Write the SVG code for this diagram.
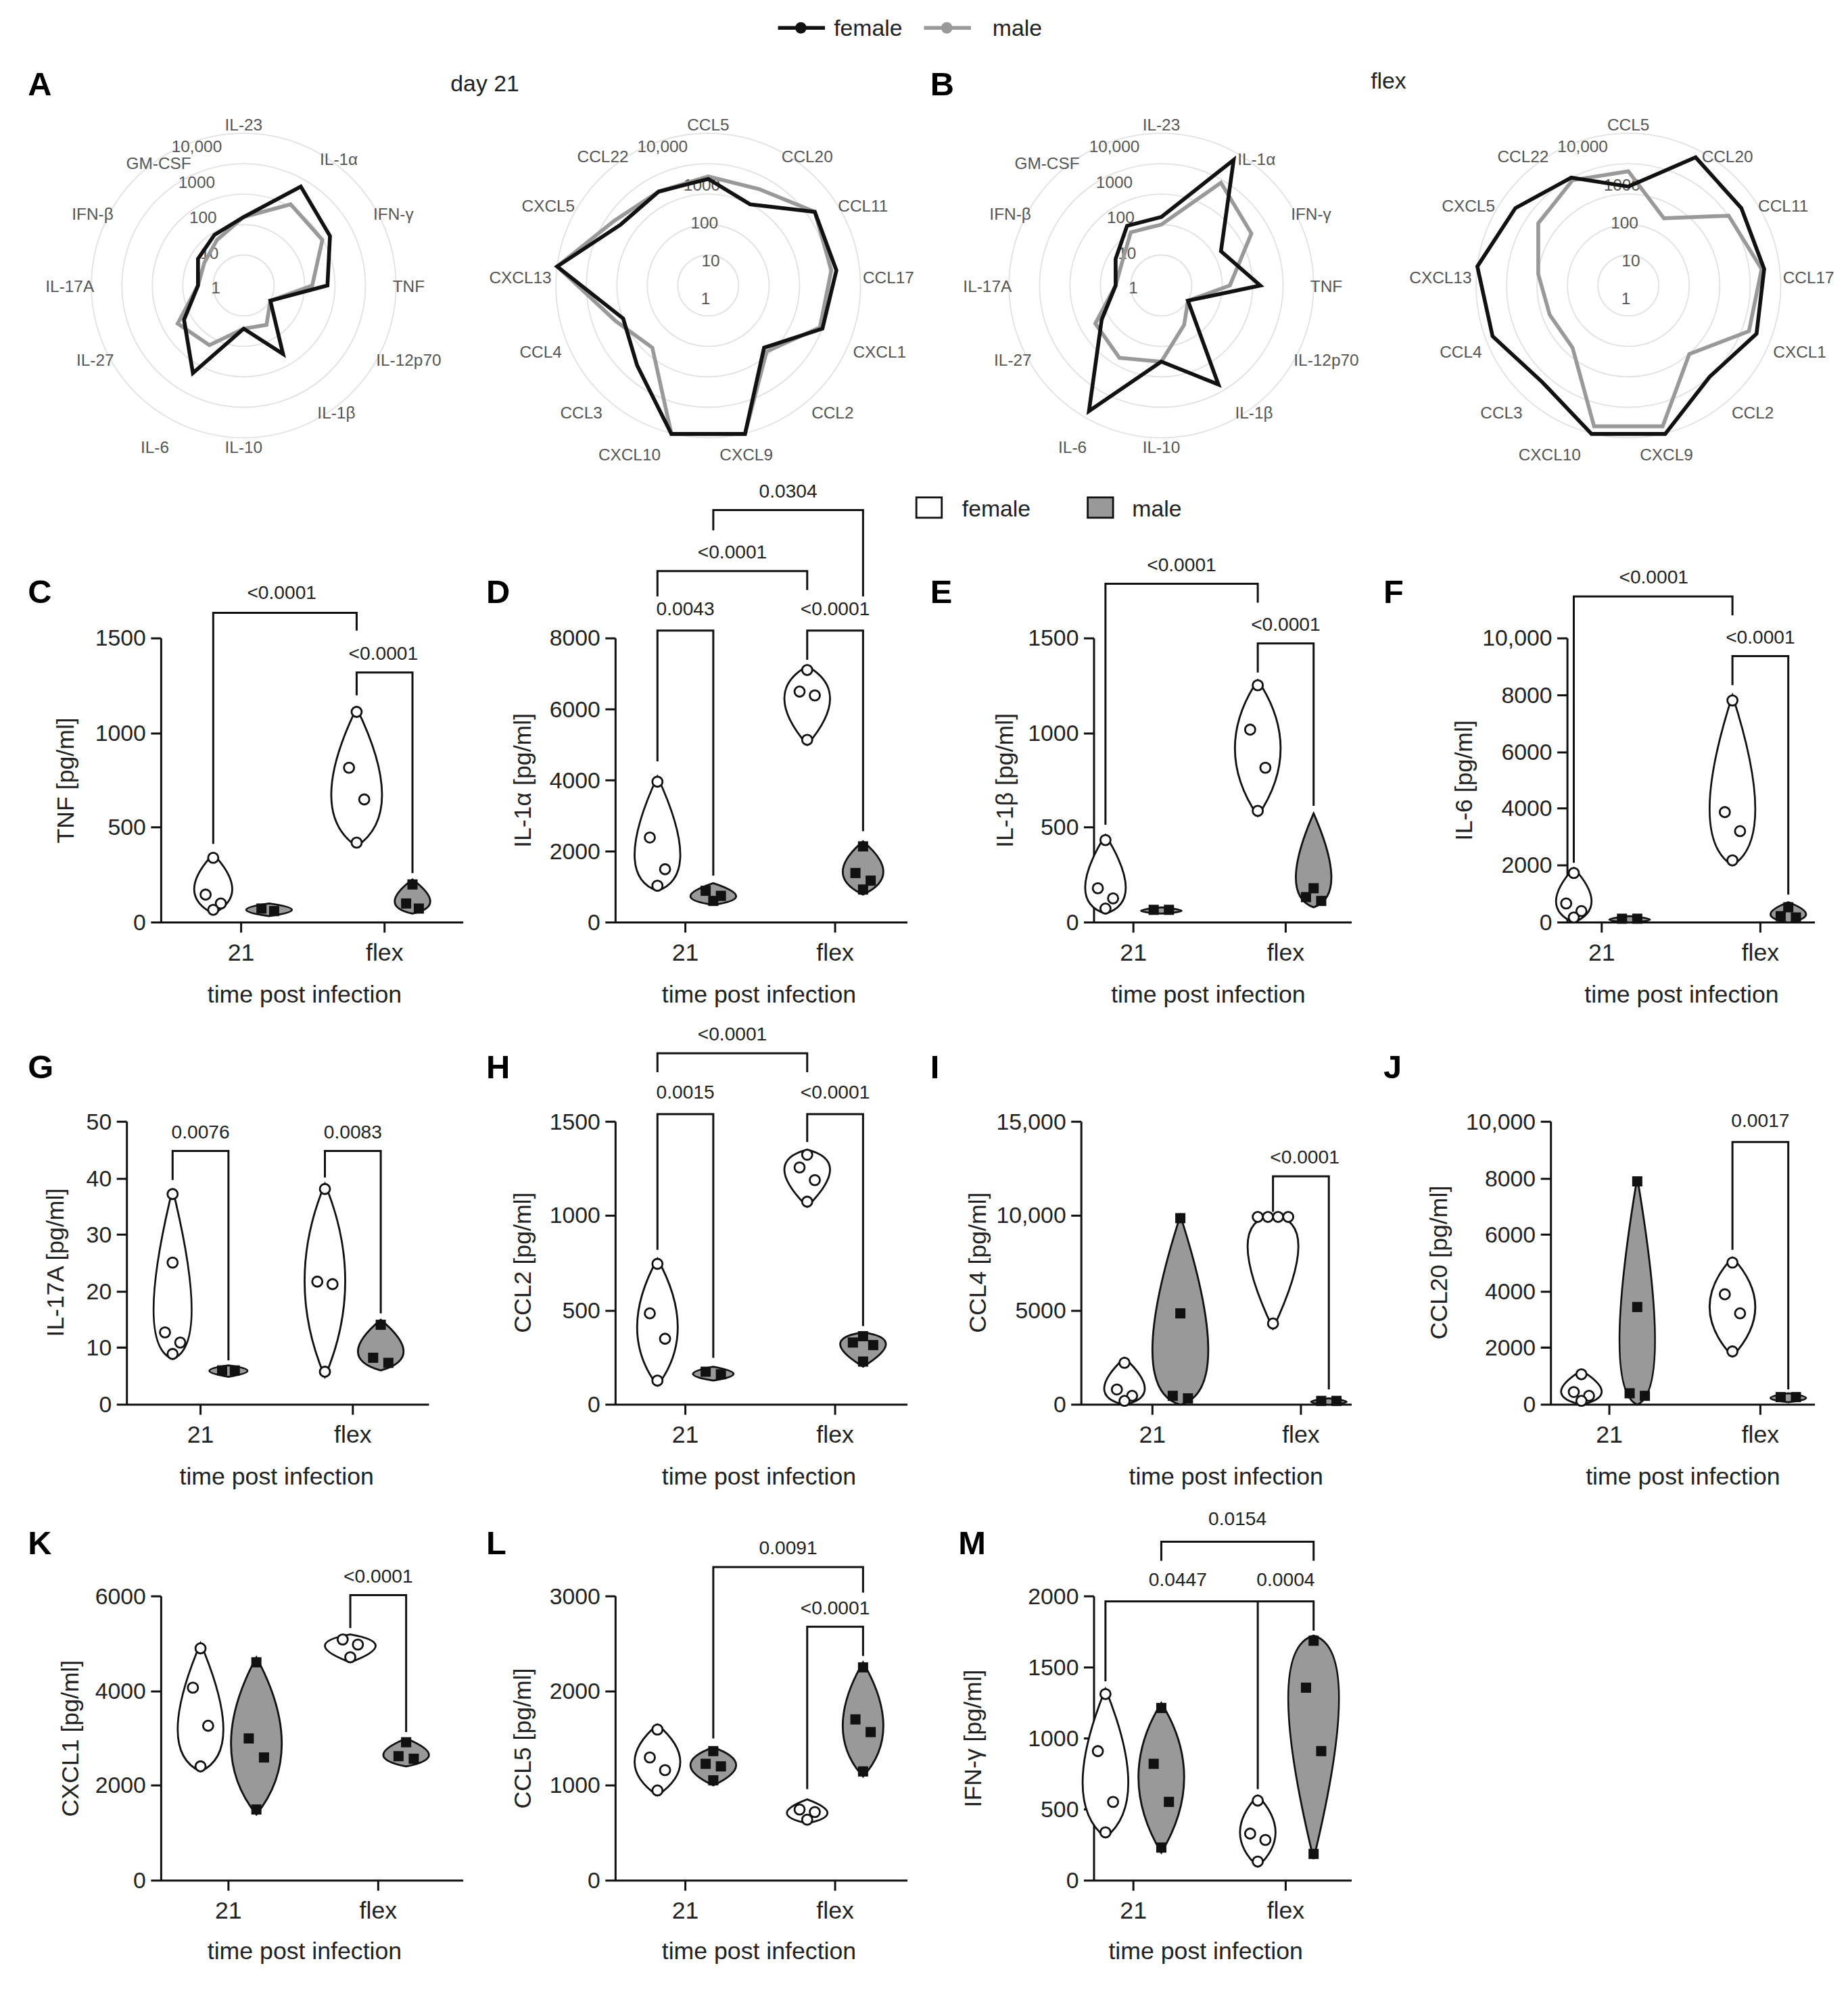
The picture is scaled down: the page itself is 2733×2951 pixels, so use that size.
<svg xmlns="http://www.w3.org/2000/svg" xmlns:xlink="http://www.w3.org/1999/xlink" width="2733" height="2951" viewBox="0 0 2733 2951">
<style>
text{font-family:"Liberation Sans",Arial,sans-serif;fill:#222}
.pl{font-size:26px;font-weight:bold;fill:#000}
.rl{font-size:13px;fill:#555;text-anchor:middle}
.rs{font-size:13px;fill:#555;text-anchor:middle}
.grid{fill:none;stroke:#e2e2e2;stroke-width:1}
.fp{fill:none;stroke:#111;stroke-width:3}
.mp{fill:none;stroke:#999;stroke-width:3}
.ax{fill:none;stroke:#111;stroke-width:1.6}
.tk{font-size:18px;text-anchor:end}
.xl{font-size:19px;text-anchor:middle}
.yl{font-size:19px;text-anchor:middle}
.pv{font-size:15px;text-anchor:middle}
.br{fill:none;stroke:#111;stroke-width:1.6}
.vf{fill:#fff;stroke:#111;stroke-width:1.5}
.vm{fill:#999;stroke:#111;stroke-width:1.5}
</style>
<defs>
<circle id="fd" r="4" fill="#fff" stroke="#111" stroke-width="1.5"/>
<rect id="md" x="-4" y="-4" width="8" height="8" fill="#111"/>
</defs>
<rect width="2733" height="2951" fill="#fff"/>
<g transform="scale(1.877)">
<g id="legend-top">
<line x1="613" y1="22" x2="650" y2="22" stroke="#111" stroke-width="3"/><circle cx="631" cy="22" r="4.5" fill="#111"/>
<text x="657" y="28" font-size="18">female</text>
<line x1="728" y1="22" x2="765" y2="22" stroke="#999" stroke-width="3"/><circle cx="746" cy="22" r="4.5" fill="#999"/>
<text x="782" y="28" font-size="18">male</text>
</g>
<g id="labels">
<text class="pl" x="22" y="75">A</text><text class="pl" x="733" y="75">B</text>
<text x="355" y="72" font-size="18">day 21</text><text x="1080" y="70" font-size="18">flex</text>
<text class="pl" x="22" y="475">C</text><text class="pl" x="383" y="475">D</text><text class="pl" x="733" y="475">E</text><text class="pl" x="1090" y="475">F</text>
<text class="pl" x="22" y="850">G</text><text class="pl" x="383" y="850">H</text><text class="pl" x="733" y="850">I</text><text class="pl" x="1090" y="850">J</text>
<text class="pl" x="22" y="1225">K</text><text class="pl" x="383" y="1225">L</text><text class="pl" x="755" y="1225">M</text>
</g>
<g id="radarA1">
<circle class="grid" cx="192" cy="225" r="24"/><circle class="grid" cx="192" cy="225" r="48"/><circle class="grid" cx="192" cy="225" r="72"/><circle class="grid" cx="192" cy="225" r="96"/><circle class="grid" cx="192" cy="225" r="120"/>
<text class="rs" x="155" y="120">10,000</text><text class="rs" x="155" y="148">1000</text><text class="rs" x="160" y="176">100</text><text class="rs" x="165" y="204">10</text><text class="rs" x="170" y="231">1</text>
<text class="rl" x="192" y="103">IL-23</text><text class="rl" x="267" y="130">IL-1α</text><text class="rl" x="310" y="173">IFN-γ</text><text class="rl" x="322" y="230">TNF</text><text class="rl" x="322" y="288">IL-12p70</text><text class="rl" x="265" y="330">IL-1β</text><text class="rl" x="192" y="357">IL-10</text><text class="rl" x="122" y="357">IL-6</text><text class="rl" x="75" y="288">IL-27</text><text class="rl" x="55" y="230">IL-17A</text><text class="rl" x="73" y="173">IFN-β</text><text class="rl" x="125" y="133">GM-CSF</text>
<polygon class="mp" points="192,171 229,161 254,189 246,225 213,237 210,256 192,259 165,272 140,255 156,225 161,207 171,189"/>
<polygon class="fp" points="192,171 237,147 260,186 258,225 213,237 223,279 192,259 152,294 145,252 156,225 156,204 169,185"/>
</g>
<g id="radarA2">
<circle class="grid" cx="558" cy="225" r="24"/><circle class="grid" cx="558" cy="225" r="48"/><circle class="grid" cx="558" cy="225" r="72"/><circle class="grid" cx="558" cy="225" r="96"/><circle class="grid" cx="558" cy="225" r="120"/>
<text class="rs" x="522" y="120">10,000</text><text class="rs" x="553" y="150">1000</text><text class="rs" x="555" y="180">100</text><text class="rs" x="560" y="210">10</text><text class="rs" x="556" y="240">1</text>
<text class="rl" x="558" y="103">CCL5</text><text class="rl" x="636" y="128">CCL20</text><text class="rl" x="680" y="167">CCL11</text><text class="rl" x="700" y="223">CCL17</text><text class="rl" x="693" y="282">CXCL1</text><text class="rl" x="656" y="330">CCL2</text><text class="rl" x="588" y="363">CXCL9</text><text class="rl" x="496" y="363">CXCL10</text><text class="rl" x="458" y="330">CCL3</text><text class="rl" x="426" y="282">CCL4</text><text class="rl" x="410" y="223">CXCL13</text><text class="rl" x="432" y="167">CXCL5</text><text class="rl" x="475" y="128">CCL22</text>
<polygon class="mp" points="558,139 598,149 642,167 655,213 646,258 604,277 587,342 529,342 514,274 485,253 439,210 484,174 519,151"/>
<polygon class="fp" points="558,141 591,161 642,167 659,213 648,259 602,274 587,342 529,342 502,288 491,251 439,210 489,177 519,151"/>
</g>
<g id="radarB1">
<circle class="grid" cx="915" cy="225" r="24"/><circle class="grid" cx="915" cy="225" r="48"/><circle class="grid" cx="915" cy="225" r="72"/><circle class="grid" cx="915" cy="225" r="96"/><circle class="grid" cx="915" cy="225" r="120"/>
<text class="rs" x="878" y="120">10,000</text><text class="rs" x="878" y="148">1000</text><text class="rs" x="883" y="176">100</text><text class="rs" x="888" y="204">10</text><text class="rs" x="893" y="231">1</text>
<text class="rl" x="915" y="103">IL-23</text><text class="rl" x="990" y="130">IL-1α</text><text class="rl" x="1033" y="173">IFN-γ</text><text class="rl" x="1045" y="230">TNF</text><text class="rl" x="1045" y="288">IL-12p70</text><text class="rl" x="988" y="330">IL-1β</text><text class="rl" x="915" y="357">IL-10</text><text class="rl" x="845" y="357">IL-6</text><text class="rl" x="798" y="288">IL-27</text><text class="rl" x="778" y="230">IL-17A</text><text class="rl" x="796" y="173">IFN-β</text><text class="rl" x="825" y="133">GM-CSF</text>
<polygon class="mp" points="915,177 962,144 986,184 969,225 936,237 933,256 915,285 882,282 863,255 879,225 884,207 891,183"/>
<polygon class="fp" points="915,171 972,126 962,198 993,225 936,237 960,303 915,285 858,324 868,252 879,225 879,204 888,178"/>
</g>
<g id="radarB2">
<circle class="grid" cx="1283" cy="225" r="24"/><circle class="grid" cx="1283" cy="225" r="48"/><circle class="grid" cx="1283" cy="225" r="72"/><circle class="grid" cx="1283" cy="225" r="96"/><circle class="grid" cx="1283" cy="225" r="120"/>
<text class="rs" x="1247" y="120">10,000</text><text class="rs" x="1278" y="150">1000</text><text class="rs" x="1280" y="180">100</text><text class="rs" x="1285" y="210">10</text><text class="rs" x="1281" y="240">1</text>
<text class="rl" x="1283" y="103">CCL5</text><text class="rl" x="1361" y="128">CCL20</text><text class="rl" x="1405" y="167">CCL11</text><text class="rl" x="1425" y="223">CCL17</text><text class="rl" x="1418" y="282">CXCL1</text><text class="rl" x="1381" y="330">CCL2</text><text class="rl" x="1313" y="363">CXCL9</text><text class="rl" x="1221" y="363">CXCL10</text><text class="rl" x="1183" y="330">CCL3</text><text class="rl" x="1151" y="282">CCL4</text><text class="rl" x="1135" y="223">CXCL13</text><text class="rl" x="1157" y="167">CXCL5</text><text class="rl" x="1200" y="128">CCL22</text>
<polygon class="mp" points="1283,135 1311,172 1362,170 1388,212 1378,261 1331,279 1310,336 1256,336 1239,274 1221,248 1212,216 1212,176 1239,142"/>
<polygon class="fp" points="1283,147 1336,124 1372,164 1390,212 1384,263 1347,297 1312,342 1254,342 1215,301 1176,265 1164,210 1194,164 1238,140"/>
</g>
<g id="legend-violin">
<rect x="722" y="392" width="20" height="16" fill="#fff" stroke="#111" stroke-width="1.5"/><text x="758" y="407" font-size="18">female</text>
<rect x="857" y="392" width="20" height="16" fill="#999" stroke="#111" stroke-width="1.5"/><text x="892" y="407" font-size="18">male</text>
</g>
<g id="panelC">
<path class="ax" d="M127 503V727H365M119 503H127M119 578H127M119 652H127M119 727H127M190 727V735M303 727V735"/>
<text class="tk" x="115" y="509">1500</text><text class="tk" x="115" y="584">1000</text><text class="tk" x="115" y="658">500</text><text class="tk" x="115" y="733">0</text>
<text class="xl" x="190" y="757">21</text><text class="xl" x="303" y="757">flex</text><text class="xl" x="240" y="790">time post infection</text>
<text class="yl" transform="translate(58 615) rotate(-90)">TNF [pg/ml]</text>
<path class="vf" d="M168 673Q198 705 168 720Q138 705 168 673Z"/><path class="vm" d="M212 712Q248 717 212 722Q176 717 212 712Z"/>
<path class="vf" d="M281 558Q321 640 281 667Q241 640 281 558Z"/><path class="vm" d="M325 693Q353 714 325 720Q297 714 325 693Z"/>
<use href="#fd" x="168" y="676"/><use href="#fd" x="162" y="705"/><use href="#fd" x="174" y="712"/><use href="#fd" x="168" y="717"/>
<use href="#md" x="206" y="716"/><use href="#md" x="216" y="718"/>
<use href="#fd" x="281" y="561"/><use href="#fd" x="275" y="605"/><use href="#fd" x="287" y="630"/><use href="#fd" x="281" y="664"/>
<use href="#md" x="325" y="697"/><use href="#md" x="320" y="712"/><use href="#md" x="330" y="716"/>
<path class="br" d="M168 665V483H281V497M281 548V530H325V688"/>
<text class="pv" x="222" y="472">&lt;0.0001</text><text class="pv" x="302" y="520">&lt;0.0001</text>
</g>
<g id="panelD">
<path class="ax" d="M485 503V727H715M477 503H485M477 559H485M477 615H485M477 671H485M477 727H485M540 727V735M658 727V735"/>
<text class="tk" x="473" y="509">8000</text><text class="tk" x="473" y="565">6000</text><text class="tk" x="473" y="621">4000</text><text class="tk" x="473" y="677">2000</text><text class="tk" x="473" y="733">0</text>
<text class="xl" x="540" y="757">21</text><text class="xl" x="658" y="757">flex</text><text class="xl" x="598" y="790">time post infection</text>
<text class="yl" transform="translate(418 615) rotate(-90)">IL-1α [pg/ml]</text>
<path class="vf" d="M518 612Q554 690 518 702Q482 690 518 612Z"/><path class="vm" d="M562 696Q598 708 562 713Q526 708 562 696Z"/>
<path class="vf" d="M636 525Q672 545 636 587Q600 545 636 525Z"/><path class="vm" d="M680 663Q712 690 680 705Q648 690 680 663Z"/>
<use href="#fd" x="518" y="616"/><use href="#fd" x="512" y="660"/><use href="#fd" x="524" y="685"/><use href="#fd" x="518" y="698"/>
<use href="#md" x="556" y="702"/><use href="#md" x="568" y="706"/><use href="#md" x="562" y="710"/>
<use href="#fd" x="636" y="528"/><use href="#fd" x="630" y="545"/><use href="#fd" x="642" y="548"/><use href="#fd" x="636" y="583"/>
<use href="#md" x="680" y="667"/><use href="#md" x="674" y="688"/><use href="#md" x="686" y="694"/><use href="#md" x="680" y="701"/>
<path class="br" d="M518 470V450H636V465M518 600V497H562V690M636 520V497H680V655M562 418V402H680V470"/>
<text class="pv" x="540" y="485">0.0043</text><text class="pv" x="577" y="440">&lt;0.0001</text><text class="pv" x="658" y="485">&lt;0.0001</text><text class="pv" x="621" y="392">0.0304</text>
</g>
<g id="panelE">
<path class="ax" d="M862 503V727H1065M854 503H862M854 578H862M854 652H862M854 727H862M893 727V735M1013 727V735"/>
<text class="tk" x="850" y="509">1500</text><text class="tk" x="850" y="584">1000</text><text class="tk" x="850" y="658">500</text><text class="tk" x="850" y="733">0</text>
<text class="xl" x="893" y="757">21</text><text class="xl" x="1013" y="757">flex</text><text class="xl" x="952" y="790">time post infection</text>
<text class="yl" transform="translate(798 615) rotate(-90)">IL-1β [pg/ml]</text>
<path class="vf" d="M871 658Q903 710 871 720Q839 710 871 658Z"/><path class="vm" d="M915 715Q947 718 915 720Q883 718 915 715Z"/>
<path class="vf" d="M991 536Q1027 590 991 643Q955 590 991 536Z"/><path class="vm" d="M1035 641Q1063 705 1035 715Q1007 705 1035 641Z"/>
<use href="#fd" x="871" y="662"/><use href="#fd" x="865" y="700"/><use href="#fd" x="877" y="708"/><use href="#fd" x="871" y="716"/>
<use href="#md" x="909" y="717"/><use href="#md" x="921" y="717"/>
<use href="#fd" x="991" y="540"/><use href="#fd" x="985" y="575"/><use href="#fd" x="997" y="605"/><use href="#fd" x="991" y="639"/>
<use href="#md" x="1035" y="700"/><use href="#md" x="1029" y="707"/><use href="#md" x="1041" y="710"/>
<path class="br" d="M871 650V460H991V475M991 530V507H1035V635"/>
<text class="pv" x="931" y="450">&lt;0.0001</text><text class="pv" x="1013" y="497">&lt;0.0001</text>
</g>
<g id="panelF">
<path class="ax" d="M1235 503V727H1430M1227 503H1235M1227 548H1235M1227 593H1235M1227 637H1235M1227 682H1235M1227 727H1235M1262 727V735M1387 727V735"/>
<text class="tk" x="1223" y="509">10,000</text><text class="tk" x="1223" y="554">8000</text><text class="tk" x="1223" y="599">6000</text><text class="tk" x="1223" y="643">4000</text><text class="tk" x="1223" y="688">2000</text><text class="tk" x="1223" y="733">0</text>
<text class="xl" x="1262" y="757">21</text><text class="xl" x="1387" y="757">flex</text><text class="xl" x="1325" y="790">time post infection</text>
<text class="yl" transform="translate(1160 615) rotate(-90)">IL-6 [pg/ml]</text>
<path class="vf" d="M1240 684Q1268 715 1240 727Q1212 715 1240 684Z"/><path class="vm" d="M1284 722Q1316 725 1284 727Q1252 725 1284 722Z"/>
<path class="vf" d="M1365 548Q1401 660 1365 682Q1329 660 1365 548Z"/><path class="vm" d="M1409 711Q1437 722 1409 727Q1381 722 1409 711Z"/>
<use href="#fd" x="1240" y="688"/><use href="#fd" x="1234" y="712"/><use href="#fd" x="1246" y="718"/><use href="#fd" x="1240" y="723"/>
<use href="#md" x="1278" y="724"/><use href="#md" x="1290" y="724"/>
<use href="#fd" x="1365" y="552"/><use href="#fd" x="1359" y="640"/><use href="#fd" x="1371" y="655"/><use href="#fd" x="1365" y="678"/>
<use href="#md" x="1409" y="715"/><use href="#md" x="1403" y="722"/><use href="#md" x="1415" y="723"/>
<path class="br" d="M1240 680V470H1365V485M1365 540V517H1409V705"/>
<text class="pv" x="1303" y="460">&lt;0.0001</text><text class="pv" x="1387" y="507">&lt;0.0001</text>
</g>
<g id="panelG">
<path class="ax" d="M100 884V1107H338M92 884H100M92 929H100M92 973H100M92 1018H100M92 1062H100M92 1107H100M158 1107V1115M278 1107V1115"/>
<text class="tk" x="88" y="890">50</text><text class="tk" x="88" y="935">40</text><text class="tk" x="88" y="979">30</text><text class="tk" x="88" y="1024">20</text><text class="tk" x="88" y="1068">10</text><text class="tk" x="88" y="1113">0</text>
<text class="xl" x="158" y="1137">21</text><text class="xl" x="278" y="1137">flex</text><text class="xl" x="218" y="1170">time post infection</text>
<text class="yl" transform="translate(50 995) rotate(-90)">IL-17A [pg/ml]</text>
<path class="vf" d="M136 937Q166 1060 136 1071Q106 1060 136 937Z"/><path class="vm" d="M180 1076Q210 1080 180 1085Q150 1080 180 1076Z"/>
<path class="vf" d="M256 933Q288 1010 256 1085Q224 1010 256 933Z"/><path class="vm" d="M300 1040Q336 1070 300 1080Q264 1070 300 1040Z"/>
<use href="#fd" x="136" y="941"/><use href="#fd" x="136" y="995"/><use href="#fd" x="130" y="1050"/><use href="#fd" x="142" y="1058"/><use href="#fd" x="136" y="1067"/>
<use href="#md" x="175" y="1080"/><use href="#md" x="185" y="1080"/>
<use href="#fd" x="256" y="937"/><use href="#fd" x="250" y="1010"/><use href="#fd" x="262" y="1012"/><use href="#fd" x="256" y="1081"/>
<use href="#md" x="300" y="1044"/><use href="#md" x="294" y="1070"/><use href="#md" x="306" y="1074"/>
<path class="br" d="M136 930V907H180V1072M256 928V907H300V1035"/>
<text class="pv" x="158" y="897">0.0076</text><text class="pv" x="278" y="897">0.0083</text>
</g>
<g id="panelH">
<path class="ax" d="M485 884V1107H715M477 884H485M477 958H485M477 1033H485M477 1107H485M540 1107V1115M658 1107V1115"/>
<text class="tk" x="473" y="890">1500</text><text class="tk" x="473" y="964">1000</text><text class="tk" x="473" y="1039">500</text><text class="tk" x="473" y="1113">0</text>
<text class="xl" x="540" y="1137">21</text><text class="xl" x="658" y="1137">flex</text><text class="xl" x="598" y="1170">time post infection</text>
<text class="yl" transform="translate(418 995) rotate(-90)">CCL2 [pg/ml]</text>
<path class="vf" d="M518 992Q550 1050 518 1092Q486 1050 518 992Z"/><path class="vm" d="M562 1077Q594 1083 562 1088Q530 1083 562 1077Z"/>
<path class="vf" d="M636 906Q672 915 636 951Q600 915 636 906Z"/><path class="vm" d="M680 1050Q716 1055 680 1077Q644 1055 680 1050Z"/>
<use href="#fd" x="518" y="996"/><use href="#fd" x="512" y="1035"/><use href="#fd" x="524" y="1055"/><use href="#fd" x="518" y="1088"/>
<use href="#md" x="556" y="1081"/><use href="#md" x="568" y="1083"/>
<use href="#fd" x="636" y="910"/><use href="#fd" x="630" y="920"/><use href="#fd" x="642" y="930"/><use href="#fd" x="636" y="947"/>
<use href="#md" x="680" y="1053"/><use href="#md" x="672" y="1058"/><use href="#md" x="688" y="1060"/><use href="#md" x="680" y="1073"/>
<path class="br" d="M518 845V830H636V845M518 985V878H562V1070M636 900V878H680V1045"/>
<text class="pv" x="577" y="820">&lt;0.0001</text><text class="pv" x="540" y="866">0.0015</text><text class="pv" x="658" y="866">&lt;0.0001</text>
</g>
<g id="panelI">
<path class="ax" d="M852 884V1107H1065M844 884H852M844 958H852M844 1033H852M844 1107H852M908 1107V1115M1025 1107V1115"/>
<text class="tk" x="840" y="890">15,000</text><text class="tk" x="840" y="964">10,000</text><text class="tk" x="840" y="1039">5000</text><text class="tk" x="840" y="1113">0</text>
<text class="xl" x="908" y="1137">21</text><text class="xl" x="1025" y="1137">flex</text><text class="xl" x="966" y="1170">time post infection</text>
<text class="yl" transform="translate(777 995) rotate(-90)">CCL4 [pg/ml]</text>
<path class="vf" d="M886 1070Q918 1100 886 1107Q854 1100 886 1070Z"/><path class="vm" d="M930 958Q974 1095 930 1107Q886 1095 930 958Z"/>
<path class="vf" d="M1003 958Q1043 962 1003 1047Q963 962 1003 958Z"/><path class="vm" d="M1047 1102Q1075 1105 1047 1107Q1019 1105 1047 1102Z"/>
<use href="#fd" x="886" y="1074"/><use href="#fd" x="880" y="1095"/><use href="#fd" x="892" y="1100"/><use href="#fd" x="886" y="1104"/>
<use href="#md" x="930" y="960"/><use href="#md" x="930" y="1035"/><use href="#md" x="924" y="1100"/><use href="#md" x="936" y="1102"/>
<use href="#fd" x="991" y="959"/><use href="#fd" x="999" y="959"/><use href="#fd" x="1007" y="959"/><use href="#fd" x="1015" y="959"/><use href="#fd" x="1003" y="1043"/>
<use href="#md" x="1041" y="1104"/><use href="#md" x="1053" y="1104"/>
<path class="br" d="M1003 955V927H1047V1095"/>
<text class="pv" x="1028" y="917">&lt;0.0001</text>
</g>
<g id="panelJ">
<path class="ax" d="M1222 884V1107H1430M1214 884H1222M1214 929H1222M1214 973H1222M1214 1018H1222M1214 1062H1222M1214 1107H1222M1268 1107V1115M1387 1107V1115"/>
<text class="tk" x="1210" y="890">10,000</text><text class="tk" x="1210" y="935">8000</text><text class="tk" x="1210" y="979">6000</text><text class="tk" x="1210" y="1024">4000</text><text class="tk" x="1210" y="1068">2000</text><text class="tk" x="1210" y="1113">0</text>
<text class="xl" x="1268" y="1137">21</text><text class="xl" x="1387" y="1137">flex</text><text class="xl" x="1326" y="1170">time post infection</text>
<text class="yl" transform="translate(1140 995) rotate(-90)">CCL20 [pg/ml]</text>
<path class="vf" d="M1246 1080Q1278 1100 1246 1107Q1214 1100 1246 1080Z"/><path class="vm" d="M1290 928Q1318 1095 1290 1107Q1262 1095 1290 928Z"/>
<path class="vf" d="M1365 991Q1401 1030 1365 1069Q1329 1030 1365 991Z"/><path class="vm" d="M1409 1098Q1437 1102 1409 1105Q1381 1102 1409 1098Z"/>
<use href="#fd" x="1246" y="1083"/><use href="#fd" x="1240" y="1097"/><use href="#fd" x="1252" y="1100"/><use href="#fd" x="1246" y="1104"/>
<use href="#md" x="1290" y="931"/><use href="#md" x="1290" y="1030"/><use href="#md" x="1284" y="1098"/><use href="#md" x="1296" y="1100"/>
<use href="#fd" x="1365" y="995"/><use href="#fd" x="1359" y="1020"/><use href="#fd" x="1371" y="1035"/><use href="#fd" x="1365" y="1065"/>
<use href="#md" x="1403" y="1101"/><use href="#md" x="1415" y="1101"/>
<path class="br" d="M1365 985V900H1409V1095"/>
<text class="pv" x="1387" y="888">0.0017</text>
</g>
<g id="panelK">
<path class="ax" d="M127 1258V1482H365M119 1258H127M119 1333H127M119 1407H127M119 1482H127M180 1482V1490M298 1482V1490"/>
<text class="tk" x="115" y="1264">6000</text><text class="tk" x="115" y="1339">4000</text><text class="tk" x="115" y="1413">2000</text><text class="tk" x="115" y="1488">0</text>
<text class="xl" x="180" y="1512">21</text><text class="xl" x="298" y="1512">flex</text><text class="xl" x="240" y="1544">time post infection</text>
<text class="yl" transform="translate(62 1370) rotate(-90)">CXCL1 [pg/ml]</text>
<path class="vf" d="M158 1295Q194 1380 158 1396Q122 1380 158 1295Z"/><path class="vm" d="M202 1306Q242 1380 202 1430Q162 1380 202 1306Z"/>
<path class="vf" d="M276 1288Q316 1295 276 1310Q236 1295 276 1288Z"/><path class="vm" d="M320 1370Q356 1385 320 1392Q284 1385 320 1370Z"/>
<use href="#fd" x="158" y="1299"/><use href="#fd" x="152" y="1330"/><use href="#fd" x="164" y="1360"/><use href="#fd" x="158" y="1392"/>
<use href="#md" x="202" y="1310"/><use href="#md" x="196" y="1370"/><use href="#md" x="208" y="1385"/><use href="#md" x="202" y="1426"/>
<use href="#fd" x="270" y="1292"/><use href="#fd" x="282" y="1296"/><use href="#fd" x="276" y="1306"/>
<use href="#md" x="320" y="1373"/><use href="#md" x="314" y="1384"/><use href="#md" x="326" y="1386"/>
<path class="br" d="M276 1283V1257H320V1365"/>
<text class="pv" x="298" y="1247">&lt;0.0001</text>
</g>
<g id="panelL">
<path class="ax" d="M485 1258V1482H715M477 1258H485M477 1333H485M477 1407H485M477 1482H485M540 1482V1490M658 1482V1490"/>
<text class="tk" x="473" y="1264">3000</text><text class="tk" x="473" y="1339">2000</text><text class="tk" x="473" y="1413">1000</text><text class="tk" x="473" y="1488">0</text>
<text class="xl" x="540" y="1512">21</text><text class="xl" x="658" y="1512">flex</text><text class="xl" x="598" y="1544">time post infection</text>
<text class="yl" transform="translate(418 1370) rotate(-90)">CCL5 [pg/ml]</text>
<path class="vf" d="M518 1359Q554 1390 518 1415Q482 1390 518 1359Z"/><path class="vm" d="M562 1377Q598 1390 562 1407Q526 1390 562 1377Z"/>
<path class="vf" d="M636 1418Q668 1430 636 1437Q604 1430 636 1418Z"/><path class="vm" d="M680 1310Q712 1365 680 1400Q648 1365 680 1310Z"/>
<use href="#fd" x="518" y="1363"/><use href="#fd" x="512" y="1385"/><use href="#fd" x="524" y="1395"/><use href="#fd" x="518" y="1411"/>
<use href="#md" x="562" y="1380"/><use href="#md" x="556" y="1390"/><use href="#md" x="568" y="1392"/><use href="#md" x="562" y="1403"/>
<use href="#fd" x="630" y="1426"/><use href="#fd" x="642" y="1428"/><use href="#fd" x="636" y="1434"/>
<use href="#md" x="680" y="1314"/><use href="#md" x="674" y="1355"/><use href="#md" x="686" y="1365"/><use href="#md" x="680" y="1396"/>
<path class="br" d="M562 1370V1235H680V1255M636 1410V1282H680V1305"/>
<text class="pv" x="621" y="1225">0.0091</text><text class="pv" x="658" y="1272">&lt;0.0001</text>
</g>
<g id="panelM">
<path class="ax" d="M862 1258V1482H1065M854 1258H862M854 1314H862M854 1370H862M854 1426H862M854 1482H862M893 1482V1490M1013 1482V1490"/>
<text class="tk" x="850" y="1264">2000</text><text class="tk" x="850" y="1320">1500</text><text class="tk" x="850" y="1376">1000</text><text class="tk" x="850" y="1432">500</text><text class="tk" x="850" y="1488">0</text>
<text class="xl" x="893" y="1512">21</text><text class="xl" x="1013" y="1512">flex</text><text class="xl" x="950" y="1544">time post infection</text>
<text class="yl" transform="translate(773 1370) rotate(-90)">IFN-γ [pg/ml]</text>
<path class="vf" d="M871 1331Q907 1420 871 1448Q835 1420 871 1331Z"/><path class="vm" d="M915 1342Q951 1400 915 1460Q879 1400 915 1342Z"/>
<path class="vf" d="M991 1415Q1019 1445 991 1471Q963 1445 991 1415Z"/><path class="vm" d="M1035 1289Q1075 1300 1035 1465Q995 1300 1035 1289Z"/>
<use href="#fd" x="871" y="1335"/><use href="#fd" x="865" y="1380"/><use href="#fd" x="877" y="1420"/><use href="#fd" x="871" y="1444"/>
<use href="#md" x="915" y="1346"/><use href="#md" x="909" y="1390"/><use href="#md" x="921" y="1420"/><use href="#md" x="915" y="1456"/>
<use href="#fd" x="991" y="1419"/><use href="#fd" x="985" y="1445"/><use href="#fd" x="997" y="1450"/><use href="#fd" x="991" y="1467"/>
<use href="#md" x="1035" y="1293"/><use href="#md" x="1029" y="1330"/><use href="#md" x="1041" y="1380"/><use href="#md" x="1035" y="1461"/>
<path class="br" d="M871 1325V1262H1035V1285M991 1262V1410M915 1230V1215H1035V1230"/>
<text class="pv" x="928" y="1250">0.0447</text><text class="pv" x="1013" y="1250">0.0004</text><text class="pv" x="975" y="1202">0.0154</text>
</g>
</g>
</svg>
